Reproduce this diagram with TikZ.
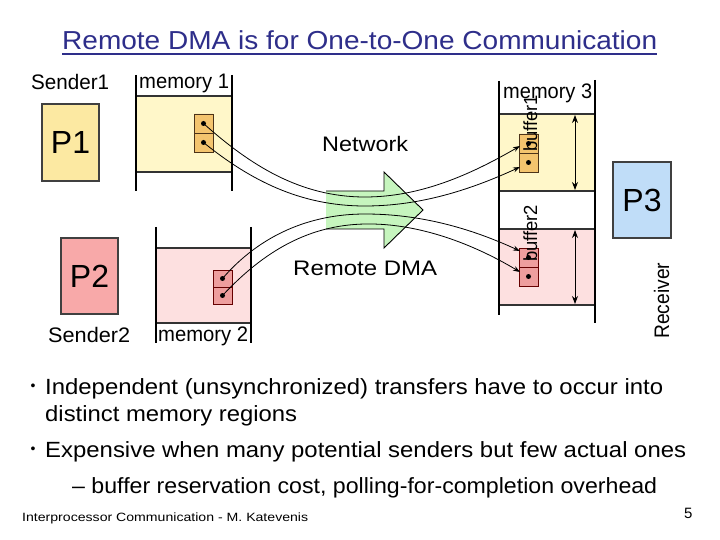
\documentclass[tikz,border=0pt]{standalone}
\usepackage{fontspec}
\setmainfont{Liberation Sans}
\usepackage{graphicx}
\usetikzlibrary{arrows.meta}
\newlength\fwlen
\newcommand\fitto[2]{\settowidth\fwlen{#2}\pgfmathsetmacro\fwr{#1/\fwlen}\scalebox{\fwr}[1]{#2}}
\definecolor{titlecol}{HTML}{2E2E8A}
\definecolor{pone}{HTML}{FCE9A2}
\definecolor{mone}{HTML}{FFF7C9}
\definecolor{bone}{HTML}{F4C46E}
\definecolor{ptwo}{HTML}{F8A9A9}
\definecolor{mtwo}{HTML}{FDE0E0}
\definecolor{btwo}{HTML}{EE9E9E}
\definecolor{pthree}{HTML}{C0DDF8}
\definecolor{agreen}{HTML}{C6F5BE}
\begin{document}
\begin{tikzpicture}[x=1pt,y=-1pt,
  lbl/.style={inner sep=0pt, font=\fontsize{21}{24}\selectfont},
  txt/.style={inner sep=0pt, font=\fontsize{22}{26}\selectfont},
  wall/.style={line width=2.6pt, black},
  sep/.style={line width=1.4pt, black!80},
  proc/.style={draw=black!75, line width=1.2pt, inner sep=0pt, font=\fontsize{32}{32}\selectfont},
  cellone/.style={draw=black!60!brown, line width=0.8pt, fill=bone},
  celltwo/.style={draw=black!60!red, line width=0.8pt, fill=btwo},
  dot/.style={circle, fill=black, inner sep=0pt, minimum size=5pt},
  flow/.style={-{Stealth[length=7pt,width=5pt]}, line width=0.8pt},
  span/.style={{Stealth[length=8pt,width=6pt]}-{Stealth[length=8pt,width=6pt]}, line width=0.8pt}
]
\useasboundingbox (0,0) rectangle (720,540);
\fill[white] (0,0) rectangle (720,540);

% title
\node[inner sep=0pt, anchor=base west, text=titlecol, font=\fontsize{26}{30}\selectfont] (title) at (62,50) {\fitto{595pt}{Remote DMA is for One-to-One Communication}};
\draw[titlecol, line width=1.2pt] ([yshift=-4pt]title.base west) -- ([yshift=-4pt]title.base east);

% processors
\node[proc, fill=pone, minimum width=57pt, minimum height=77pt] (P1) at (70.5,142.5) {P1};
\node[proc, fill=ptwo, minimum width=57pt, minimum height=76pt] (P2) at (89.5,276) {P2};
\node[proc, fill=pthree, minimum width=58pt, minimum height=76pt] (P3) at (642,200) {P3};

% memory 1
\fill[mone] (136,96) rectangle (232,172);
\draw[sep] (136,96) -- (232,96) (136,172) -- (232,172);
\draw[wall] (136,75) -- (136,191) (232,75) -- (232,191);
% memory 2
\fill[mtwo] (156,248) rectangle (251,323);
\draw[sep] (156,248) -- (251,248) (156,323) -- (251,323);
\draw[wall] (156,227) -- (156,343) (251,227) -- (251,343);
% memory 3
\fill[mone] (499,114) rectangle (595,191);
\fill[mtwo] (499,229) rectangle (595,305);
\draw[sep] (499,114) -- (595,114) (499,191) -- (595,191) (499,229) -- (595,229) (499,305) -- (595,305);
\draw[wall] (499,81) -- (499,315) (595,80) -- (595,323);

% small buffers
\draw[cellone] (194,114) rectangle (213,133) (194,133) rectangle (213,152);
\draw[celltwo] (213,270) rectangle (232,287) (213,287) rectangle (232,304);
\draw[cellone] (519,134) rectangle (538,153) (519,153) rectangle (538,172);
\draw[celltwo] (519,248) rectangle (538,267) (519,267) rectangle (538,286);

\node[dot] (s1a) at (203.5,123.5) {};
\node[dot] (s1b) at (203.5,142.5) {};
\node[dot] (s2a) at (222.5,278.5) {};
\node[dot] (s2b) at (222.5,295.5) {};
\node[dot] (d1a) at (528.5,143.5) {};
\node[dot] (d1b) at (528.5,162.5) {};
\node[dot] (d2a) at (528.5,257.5) {};
\node[dot] (d2b) at (528.5,276.5) {};
\coordinate (r1a) at (520,146);
\coordinate (r1b) at (520,167);
\coordinate (r2a) at (520,251);
\coordinate (r2b) at (520,272);

% green network arrow
\fill[agreen] (326,191) -- (384,191) -- (384,172) -- (423,210) -- (384,248) -- (384,229) -- (326,229) -- cycle;
\draw[line width=0.9pt] (326,191) -- (384,191) -- (384,172) -- (423,210) -- (384,248) -- (384,229) -- (326,229);

% transfers
\draw[flow] (s1a.center) .. controls (250,165) and (300,197) .. (365,197) .. controls (420,197) and (470,175) .. (r1a);
\draw[flow] (s1b.center) .. controls (250,180) and (300,206) .. (365,206) .. controls (420,206) and (470,190) .. (r1b);
\draw[flow] (s2a.center) .. controls (260,235) and (310,214) .. (365,214) .. controls (420,214) and (470,228) .. (r2a);
\draw[flow] (s2b.center) .. controls (265,250) and (310,225) .. (365,224) .. controls (420,223) and (475,245) .. (r2b);

% buffer extents
\coordinate (e1t) at (575,115);
\coordinate (e1b) at (575,190);
\coordinate (e2t) at (575,230);
\coordinate (e2b) at (575,304);
\draw[span] (e1t) -- (e1b);
\draw[span] (e2t) -- (e2b);

% labels
\node[lbl, anchor=base west] (snd1) at (31,90) {\fitto{78pt}{Sender1}};
\node[lbl, anchor=base west] (mem1) at (139,89) {\fitto{90pt}{memory 1}};
\node[lbl, anchor=base west] (snd2) at (48,342) {\fitto{82pt}{Sender2}};
\node[lbl, anchor=base west] (mem2) at (158,341) {\fitto{90pt}{memory 2}};
\node[lbl, anchor=base west] (mem3) at (503,99) {\fitto{89pt}{memory 3}};
\node[lbl, anchor=base west] (net) at (322,152) {\fitto{86pt}{Network}};
\node[lbl, anchor=base west] (rdma) at (293,275) {\fitto{144pt}{Remote DMA}};
\node[lbl, anchor=base west, rotate=90] (recv) at (669,339) {\fitto{76pt}{Receiver}};
\node[lbl, anchor=base west, rotate=90, font=\fontsize{19}{21}\selectfont] (buf1) at (537,152) {\fitto{57pt}{buffer1}};
\node[lbl, anchor=base west, rotate=90, font=\fontsize{19}{21}\selectfont] (buf2) at (537,262) {\fitto{57pt}{buffer2}};

% bullets
\node[inner sep=0pt, font=\fontsize{14}{16}\selectfont] (bul1) at (33,387) {•};
\node[inner sep=0pt, font=\fontsize{14}{16}\selectfont] (bul2) at (33,450) {•};
\node[txt, anchor=base west] (l1) at (45,394) {\fitto{618pt}{Independent (unsynchronized) transfers have to occur into}};
\node[txt, anchor=base west] (l2) at (45,421) {\fitto{252pt}{distinct memory regions}};
\node[txt, anchor=base west] (l3) at (45,457) {\fitto{641pt}{Expensive when many potential senders but few actual ones}};
\node[txt, anchor=base west] (l4) at (72,493) {\fitto{585pt}{– buffer reservation cost, polling-for-completion overhead}};

% footer
\node[inner sep=0pt, anchor=base west, font=\fontsize{12}{14}\selectfont] (foot) at (22,521) {\fitto{286pt}{Interprocessor Communication - M. Katevenis}};
\node[inner sep=0pt, anchor=base west, font=\fontsize{15}{17}\selectfont] (pg) at (684,518) {5};
\end{tikzpicture}
\end{document}
